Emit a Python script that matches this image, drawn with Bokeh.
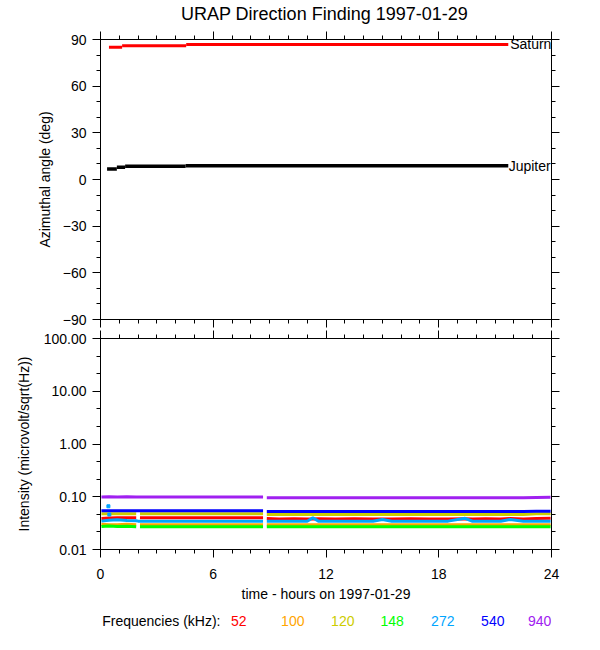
import math
from bokeh.plotting import figure
from bokeh.layouts import column
from bokeh.models import (FixedTicker, LinearAxis, LogAxis, Label, Range1d,
                          CustomJSTickFormatter)
from bokeh.embed import file_html
from bokeh.resources import INLINE

nan = float("nan")

# ---------------- data ----------------
TITLE = "URAP Direction Finding  1997-01-29"
X_LABEL = "time - hours on 1997-01-29"
Y1_LABEL = "Azimuthal angle (deg)"
Y2_LABEL = "Intensity (microvolt/sqrt(Hz))"
LEGEND_TITLE = "Frequencies (kHz):"

x_tick_labels = [0, 6, 12, 18, 24]
y1_tick_labels = [-90, -60, -30, 0, 30, 60, 90]
y2_tick_labels = [0.01, 0.1, 1, 10, 100]

# direction finding (step segments)
saturn_start = [0.45, 1.15, 4.56]
saturn_end = [1.15, 4.56, 21.7]
saturn_deg = [85.0, 86.0, 86.8]

jupiter_start = [0.35, 0.87, 1.31, 4.53]
jupiter_end = [0.87, 1.31, 4.53, 21.7]
jupiter_deg = [6.8, 7.8, 8.5, 8.9]

# intensity time series (hours)
hours = [0.05, 0.45, 0.9, 1.4, 1.9, 2.0, 2.1, 2.8, 3.5, 4.3, 5.0, 5.8, 6.5,
         7.3, 8.0, 8.65, 8.75, 8.85, 9.5, 10.3, 11.0, 11.3, 11.6, 12.5, 13.5,
         14.5, 15.0, 15.5, 16.5, 17.5, 18.5, 19.4, 19.8, 20.5, 21.3, 21.8,
         22.5, 23.2, 23.95]

freq_labels = ["52", "100", "120", "148", "272", "540", "940"]
freq_colors = ["#FF0000", "#FFA500", "#CCCC00", "#00FF00", "#00A5FF",
               "#0000FF", "#A020F0"]

int_52 = [0.0385, 0.0395, 0.0400, 0.0398, 0.0398, nan, 0.0400, 0.0398, 0.0400,
          0.0398, 0.0400, 0.0398, 0.0400, 0.0398, 0.0398, 0.0398, nan, 0.0385,
          0.0380, 0.0382, 0.0378, 0.0380, 0.0383, 0.0378, 0.0382, 0.0378,
          0.0380, 0.0377, 0.0382, 0.0378, 0.0380, 0.0383, 0.0378, 0.0382,
          0.0378, 0.0385, 0.0380, 0.0385, 0.0390]
int_100 = [0.0300, 0.0295, 0.0295, 0.0300, 0.0294, nan, 0.0294, 0.0294, 0.0295,
           0.0294, 0.0294, 0.0295, 0.0294, 0.0294, 0.0295, 0.0294, nan, 0.0294,
           0.0294, 0.0295, 0.0294, 0.0294, 0.0294, 0.0295, 0.0294, 0.0294,
           0.0294, 0.0295, 0.0294, 0.0294, 0.0294, 0.0295, 0.0294, 0.0294,
           0.0294, 0.0295, 0.0294, 0.0294, 0.0294]
int_120 = [0.0475, 0.0475, 0.0475, 0.0475, 0.0475, nan, 0.0475, 0.0475, 0.0475,
           0.0475, 0.0475, 0.0475, 0.0475, 0.0475, 0.0475, 0.0475, nan, 0.0463,
           0.0463, 0.0463, 0.0463, 0.0463, 0.0463, 0.0463, 0.0463, 0.0463,
           0.0463, 0.0463, 0.0463, 0.0463, 0.0463, 0.0463, 0.0463, 0.0463,
           0.0463, 0.0463, 0.0463, 0.0475, 0.0475]
int_148 = [0.0272, 0.0280, 0.0272, 0.0275, 0.0270, nan, 0.0269, 0.0269, 0.0269,
           0.0270, 0.0269, 0.0269, 0.0270, 0.0269, 0.0269, 0.0269, nan, 0.0269,
           0.0269, 0.0269, 0.0269, 0.0269, 0.0269, 0.0269, 0.0269, 0.0269,
           0.0269, 0.0269, 0.0269, 0.0269, 0.0269, 0.0269, 0.0269, 0.0269,
           0.0269, 0.0269, 0.0269, 0.0269, 0.0269]
int_272 = [0.0345, 0.0360, 0.0365, 0.0355, 0.0350, 0.0345, 0.0345, 0.0345,
           0.0345, 0.0345, 0.0345, 0.0345, 0.0345, 0.0345, 0.0345, 0.0345, nan,
           0.0345, 0.0343, 0.0345, 0.0343, 0.0400, 0.0345, 0.0343, 0.0345,
           0.0343, 0.0370, 0.0343, 0.0345, 0.0343, 0.0345, 0.0390, 0.0343,
           0.0345, 0.0343, 0.0370, 0.0343, 0.0345, 0.0343]
int_540 = [0.0540, 0.0545, 0.0540, 0.0542, 0.0540, 0.0540, 0.0540, 0.0542,
           0.0540, 0.0542, 0.0540, 0.0542, 0.0540, 0.0542, 0.0540, 0.0540, nan,
           0.0525, 0.0527, 0.0525, 0.0527, 0.0525, 0.0527, 0.0525, 0.0527,
           0.0525, 0.0527, 0.0525, 0.0527, 0.0525, 0.0527, 0.0525, 0.0527,
           0.0525, 0.0527, 0.0525, 0.0527, 0.0530, 0.0530]
int_940 = [0.0990, 0.0995, 0.0990, 0.0995, 0.0990, 0.0990, 0.0990, 0.0985,
           0.0990, 0.0985, 0.0990, 0.0990, 0.0985, 0.0990, 0.0985, 0.0985, nan,
           0.0955, 0.0957, 0.0955, 0.0957, 0.0955, 0.0955, 0.0955, 0.0957,
           0.0955, 0.0955, 0.0957, 0.0955, 0.0955, 0.0957, 0.0955, 0.0955,
           0.0957, 0.0955, 0.0955, 0.0957, 0.0970, 0.0980]

cyan_outlier_hours = [0.42, 0.47]
cyan_outlier_vals = [0.066, 0.046]

# ---------------- styling ----------------
FONT = "Liberation Sans"
FW = 451
ML = 100
MR = 41
HEAD_H = 28


def style_axis(ax, labels=True):
    ax.axis_line_color = "black"
    ax.major_tick_line_color = "black"
    ax.minor_tick_line_color = "black"
    ax.major_tick_in = 0
    ax.major_tick_out = 8
    ax.minor_tick_in = 0
    ax.minor_tick_out = 4
    ax.major_label_text_font = FONT
    ax.major_label_text_font_size = "14px"
    ax.major_label_text_color = "black"
    ax.axis_label_text_font = FONT
    ax.axis_label_text_font_size = "14px"
    ax.axis_label_text_font_style = "normal"
    ax.axis_label_text_color = "black"
    ax.major_label_standoff = 6
    if not labels:
        ax.formatter = CustomJSTickFormatter(code="return '';")
        ax.major_label_text_font_size = "0px"
        ax.major_label_standoff = 0


def x_ticker():
    return FixedTicker(ticks=x_tick_labels, minor_ticks=list(range(0, 25)))


def text_row(height, bottom=0):
    f = figure(frame_width=FW, frame_height=height,
               x_range=Range1d(ML, ML + FW), y_range=Range1d(height, 0),
               output_backend="svg", toolbar_location=None,
               min_border_left=ML, min_border_right=MR, min_border_top=0,
               min_border_bottom=bottom, x_axis_location=None,
               y_axis_location=None)
    f.grid.visible = False
    f.outline_line_color = None
    return f


# ---------- title row (x, y in page pixels) ----------
p0 = text_row(HEAD_H)
p0.add_layout(Label(x=ML + FW / 2.0 + 1, y=13.3, text=TITLE, text_font=FONT,
                    text_font_size="18px", text_baseline="middle",
                    text_align="center", text_color="black"))

# ---------- top panel ----------
p1 = figure(frame_width=FW, frame_height=280, x_range=Range1d(0, 24),
            y_range=Range1d(-90, 90), output_backend="svg",
            toolbar_location=None, min_border_left=ML, min_border_right=MR,
            min_border_top=39 - HEAD_H, min_border_bottom=10)
p1.grid.visible = False
p1.outline_line_color = "black"
p1.outline_line_alpha = 1.0

p1.xaxis.ticker = x_ticker()
style_axis(p1.xaxis[0], labels=False)
y1t = FixedTicker(ticks=y1_tick_labels, minor_ticks=list(range(-90, 91, 10)))
p1.yaxis.ticker = y1t
style_axis(p1.yaxis[0])
p1.yaxis.axis_label = Y1_LABEL
p1.yaxis.axis_label_standoff = 7

ax = LinearAxis(ticker=x_ticker())
style_axis(ax, labels=False)
p1.add_layout(ax, "above")
ax = LinearAxis(ticker=FixedTicker(ticks=y1_tick_labels,
                                   minor_ticks=list(range(-90, 91, 10))))
style_axis(ax, labels=False)
p1.add_layout(ax, "right")

p1.segment(x0=saturn_start, y0=saturn_deg, x1=saturn_end, y1=saturn_deg,
           line_color="#FF0000", line_width=3)
p1.segment(x0=jupiter_start, y0=jupiter_deg, x1=jupiter_end, y1=jupiter_deg,
           line_color="black", line_width=3.5)
p1.add_layout(Label(x=21.8, y=saturn_deg[-1], text="Saturn", text_font=FONT,
                    text_font_size="14px", text_baseline="middle",
                    text_align="left", text_color="black"))
p1.add_layout(Label(x=21.72, y=jupiter_deg[-1], text="Jupiter", text_font=FONT,
                    text_font_size="14px", text_baseline="middle",
                    text_align="left", text_color="black"))

# ---------- bottom panel ----------
p2 = figure(frame_width=FW, frame_height=211, x_range=Range1d(0, 24),
            y_range=Range1d(0.01, 100), y_axis_type="log",
            output_backend="svg", toolbar_location=None, min_border_left=ML,
            min_border_right=MR, min_border_top=9, min_border_bottom=56)
p2.grid.visible = False
p2.outline_line_color = "black"
p2.outline_line_alpha = 1.0

minor_log = [10 ** (k + j / 3.0) for k in range(-2, 2) for j in (1, 2)]

p2.xaxis.ticker = x_ticker()
style_axis(p2.xaxis[0])
p2.xaxis.major_label_standoff = 11
p2.xaxis.axis_label = X_LABEL
p2.xaxis.axis_label_standoff = 4
p2.yaxis.ticker = FixedTicker(ticks=y2_tick_labels, minor_ticks=minor_log)
style_axis(p2.yaxis[0])
p2.yaxis.formatter = CustomJSTickFormatter(code="return tick.toFixed(2);")
p2.yaxis.axis_label = Y2_LABEL
p2.yaxis.axis_label_standoff = 9

ax = LinearAxis(ticker=x_ticker())
style_axis(ax, labels=False)
p2.add_layout(ax, "above")
ax = LogAxis(ticker=FixedTicker(ticks=y2_tick_labels, minor_ticks=minor_log))
style_axis(ax, labels=False)
p2.add_layout(ax, "right")

series = [int_52, int_100, int_120, int_148, int_272, int_540, int_940]
for vals, col in zip(series, freq_colors):
    p2.line(hours, vals, line_color=col, line_width=3)
p2.scatter(cyan_outlier_hours, cyan_outlier_vals, marker="square", size=3,
           fill_color=freq_colors[4], line_color=freq_colors[4])

# ---------- legend row (x in page pixels) ----------
p3 = text_row(30, bottom=4)
p3.add_layout(Label(x=101.7, y=15, text=LEGEND_TITLE, text_font=FONT,
                    text_font_size="14px", text_baseline="middle",
                    text_align="left", text_color="black"))
legend_px = [238.3, 292.3, 342.3, 391.7, 442.3, 492.3, 539.2]
for xx, lab, col in zip(legend_px, freq_labels, freq_colors):
    p3.add_layout(Label(x=xx, y=15, text=lab, text_font=FONT,
                        text_font_size="14px", text_baseline="middle",
                        text_align="center", text_color=col))

layout = column(p0, p1, p2, p3, spacing=0)
open("out.html", "w").write(file_html(layout, INLINE))
